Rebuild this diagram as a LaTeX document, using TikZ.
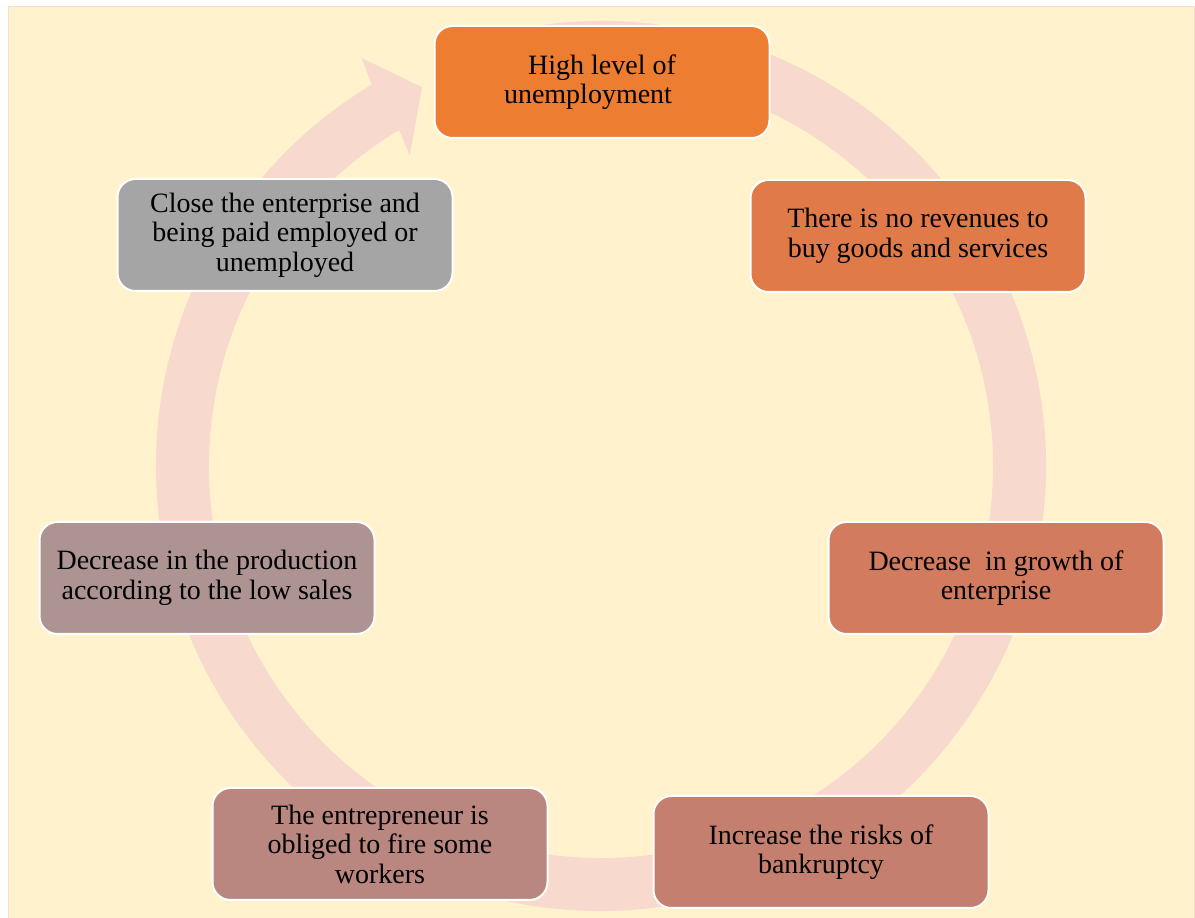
\documentclass[tikz,border=0pt]{standalone}
\usepackage{fontspec}
\setmainfont{Liberation Serif}
\usetikzlibrary{positioning}
\definecolor{bgfill}{HTML}{FFF2CC}
\definecolor{bgline}{HTML}{F8DCCB}
\definecolor{ringcol}{HTML}{F8D9CE}
\definecolor{stA}{HTML}{ED7D31}
\definecolor{stB}{HTML}{E07A48}
\definecolor{stC}{HTML}{D27B5E}
\definecolor{stD}{HTML}{C47F6F}
\definecolor{stE}{HTML}{B9877F}
\definecolor{stF}{HTML}{AE9393}
\definecolor{stG}{HTML}{A5A5A5}
\tikzset{stage/.style={rectangle, rounded corners=18pt, draw=white, line width=2pt,
      minimum width=335pt, minimum height=112pt, inner sep=0pt, align=center,
      font=\fontsize{28}{29.5}\selectfont}}

\begin{document}
\begin{tikzpicture}[x=1pt,y=1pt]
		\useasboundingbox (0,0) rectangle (1195,918);
		\fill[bgfill, draw=bgline, line width=1pt] (8,-2) rectangle (1194,911);
		% the cycle arrow
		\begin{scope}[shift={(601,452)}]
		\fill[ringcol] (100:445) arc[start angle=100, end angle=-239, radius=445]
			-- (-239.6:473) -- (-244.7:419) -- (-238.4:365) -- (-239:392)
			arc[start angle=-239, end angle=100, radius=392] -- cycle;
		\end{scope}
		% stages
		\node[stage, fill=stA] (high) at (602,836) {High level of\\unemployment\hspace*{28pt}};
		\node[stage, fill=stB] (norev) at (918,682) {There is no revenues to\\buy goods and services};
		\node[stage, fill=stC] (growth) at (996,340) {Decrease \ in growth of\\enterprise};
		\node[stage, fill=stD] (risk) at (821,66) {Increase the risks of\\bankruptcy};
		\node[stage, fill=stE] (fire) at (380,74) {The entrepreneur is\\obliged to fire some\\workers};
		\node[stage, fill=stF] (prod) at (207,340) {Decrease in the production\\according to the low sales};
		\node[stage, fill=stG] (close) at (285,683) {Close the enterprise and\\being paid employed or\\unemployed};
\end{tikzpicture}
\end{document}
